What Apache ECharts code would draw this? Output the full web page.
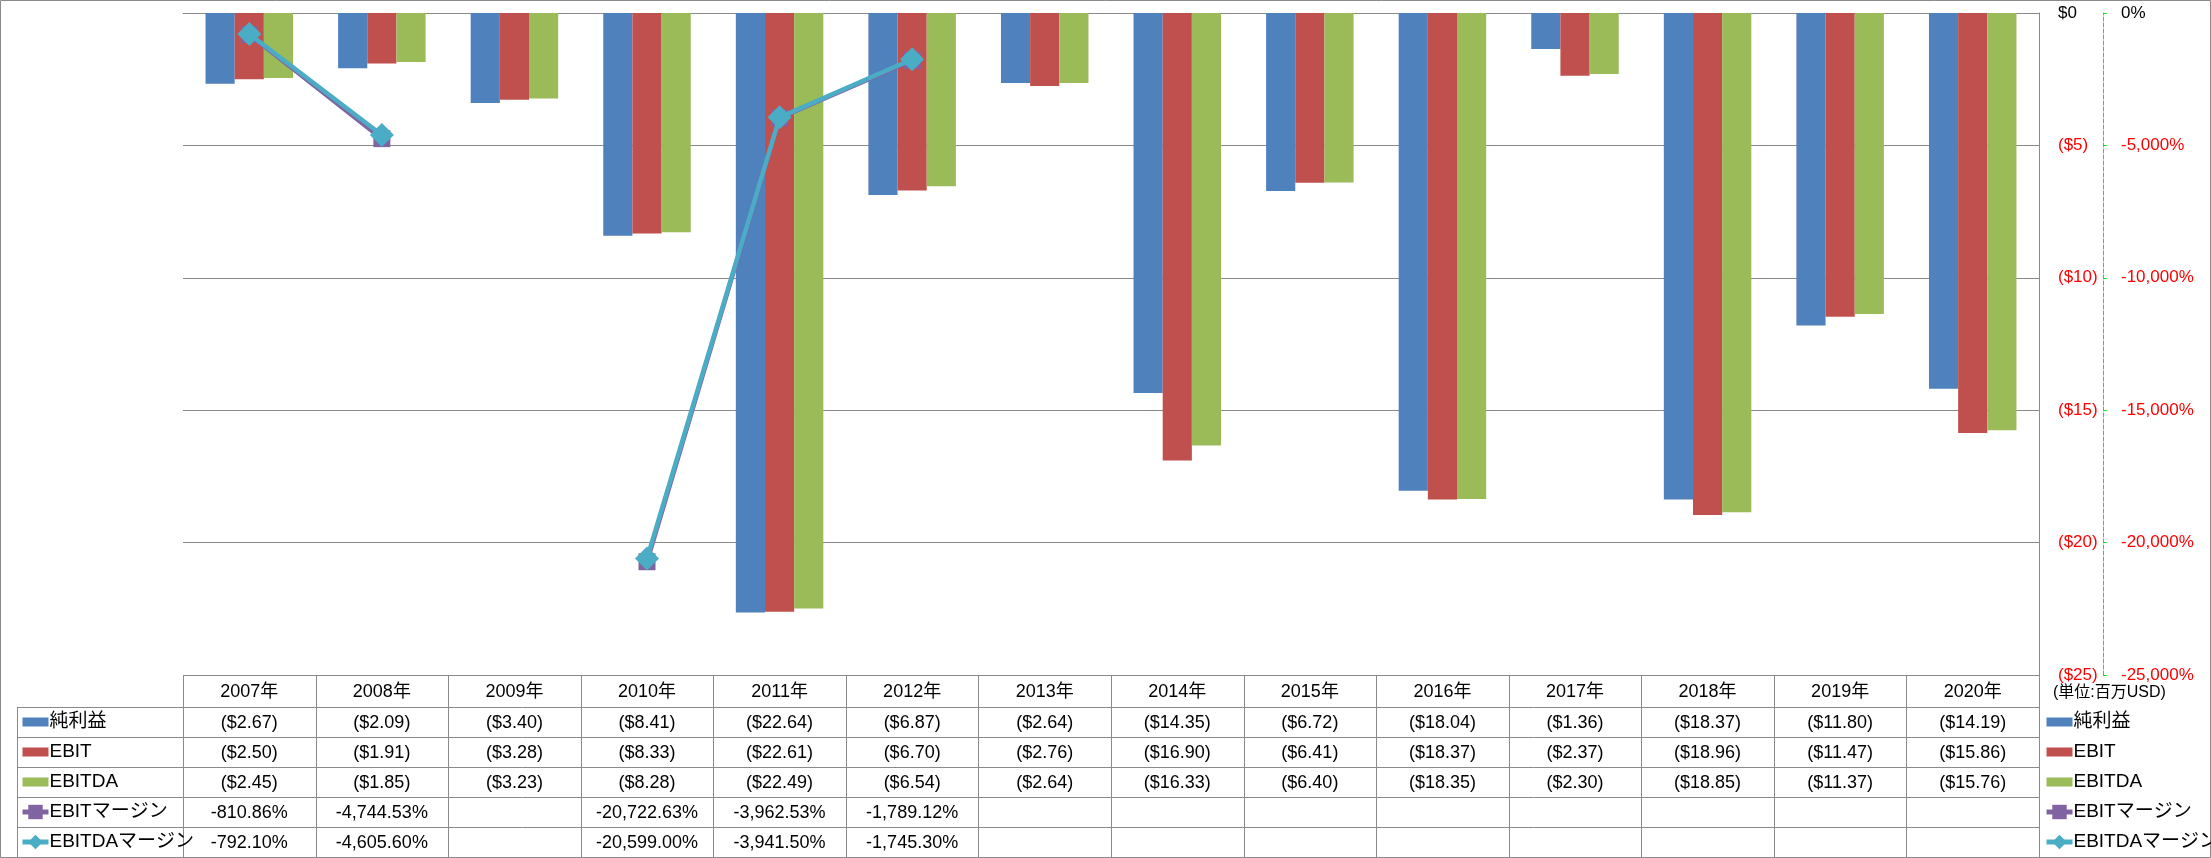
<!DOCTYPE html>
<html><head><meta charset="utf-8">
<script src="https://cdn.jsdelivr.net/npm/echarts@6/dist/echarts.min.js"></script>
<style>html,body{margin:0;padding:0;background:#fff}#c{width:2211px;height:858px}</style>
</head><body><div id="c"></div>
<script>
// ---- data ----
const years = ['2007年','2008年','2009年','2010年','2011年','2012年','2013年','2014年','2015年','2016年','2017年','2018年','2019年','2020年'];
const netIncome = [-2.67,-2.09,-3.40,-8.41,-22.64,-6.87,-2.64,-14.35,-6.72,-18.04,-1.36,-18.37,-11.80,-14.19];
const ebit      = [-2.50,-1.91,-3.28,-8.33,-22.61,-6.70,-2.76,-16.90,-6.41,-18.37,-2.37,-18.96,-11.47,-15.86];
const ebitda    = [-2.45,-1.85,-3.23,-8.28,-22.49,-6.54,-2.64,-16.33,-6.40,-18.35,-2.30,-18.85,-11.37,-15.76];
const ebitMargin   = [-810.86,-4744.53,null,-20722.63,-3962.53,-1789.12,null,null,null,null,null,null,null,null];
const ebitdaMargin = [-792.10,-4605.60,null,-20599.00,-3941.50,-1745.30,null,null,null,null,null,null,null,null];
const seriesNames = ['純利益','EBIT','EBITDA','EBITマージン','EBITDAマージン'];
const dollarAxis = {min:-25, max:0, interval:5};
const pctAxis = {min:-25000, max:0, interval:5000};
const unitLabel = '(単位:百万USD)';

// ---- layout / style ----
const W = 2211, H = 858;
const G = {left:183, right:2039, top:13, bottom:675};
const FONT = "'Liberation Sans', 'Noto Sans CJK JP', sans-serif";
const GRAY = '#8a8a8a';
const COLORS = ['#4F81BD','#C0504D','#9BBB59','#8064A2','#4BACC6'];

function fmtMoney(v){ return v < 0 ? '($' + Math.abs(v).toFixed(2) + ')' : '$' + v.toFixed(2); }
function fmtPct(v){ return v == null ? '' : v.toLocaleString('en-US',{minimumFractionDigits:2,maximumFractionDigits:2}) + '%'; }
function axisMoney(v){ return v < 0 ? '($' + Math.abs(v) + ')' : '$' + v; }
function axisPct(v){ return v.toLocaleString('en-US') + '%'; }
function negRed(v){ return Number(v) < 0 ? '#FF0000' : '#000000'; }

// ---- table graphics ----
const rows = [netIncome, ebit, ebitda, ebitMargin, ebitdaMargin];
const rowFmt = [fmtMoney, fmtMoney, fmtMoney, fmtPct, fmtPct];
const headerTop = 675, rowTop = 707, rowH = 30, tableLeft = 17;
const colW = (G.right - G.left) / years.length;
const gfx = [];
function hline(x1,x2,y){ gfx.push({type:'line', shape:{x1:x1,y1:y+0.5,x2:x2,y2:y+0.5}, style:{stroke:GRAY, lineWidth:1}, silent:true}); }
function vline(x,y1,y2){ gfx.push({type:'line', shape:{x1:x+0.5,y1:y1,x2:x+0.5,y2:y2}, style:{stroke:GRAY, lineWidth:1}, silent:true}); }
hline(G.left, G.right, headerTop);
for (let r = 0; r <= rows.length; r++) hline(tableLeft, G.right, rowTop + r*rowH);
vline(tableLeft, rowTop, rowTop + rows.length*rowH);
for (let i = 0; i <= years.length; i++) vline(Math.round(G.left + i*colW), headerTop, rowTop + rows.length*rowH);
rows.forEach((arr, r) => {
  arr.forEach((v, i) => {
    const t = rowFmt[r](v);
    if (!t) return;
    gfx.push({type:'text', silent:true, style:{text:t, x:G.left + (i+0.5)*colW, y:rowTop + r*rowH + rowH/2 + 1,
      align:'center', verticalAlign:'middle', font:'18px ' + FONT, fill:'#000'}});
  });
});
gfx.push({type:'text', silent:true, style:{text:unitLabel, x:2053, y:693, verticalAlign:'middle', font:'16px ' + FONT, fill:'#000'}});
gfx.push({type:'rect', silent:true, shape:{x:0.5,y:0.5,width:W-1,height:H-1}, style:{fill:'none', stroke:GRAY, lineWidth:1}});

const BAR_ICON = 'path://M0,0h26v9H0z';
const legendData = seriesNames.map((n, i) => i < 3 ? {name:n, icon:BAR_ICON} : {name:n, lineStyle:{width:5}});
const legendBase = {orient:'vertical', top:712, itemGap:10, itemWidth:26, itemHeight:18, padding:0, selectedMode:false,
  symbolKeepAspect:true,
  textStyle:{fontSize:19, lineHeight:20, fontFamily:FONT, color:'#000', padding:[0,0,0,-4]}, data:legendData};

const chart = echarts.init(document.getElementById('c'), null, {renderer:'canvas'});
chart.setOption({
  animation:false,
  color:COLORS,
  textStyle:{fontFamily:FONT},
  grid:{left:G.left, right:W-G.right, top:G.top, bottom:H-G.bottom, containLabel:false},
  legend:[Object.assign({left:20}, legendBase), Object.assign({left:2044}, legendBase)],
  xAxis:{type:'category', data:years, position:'bottom',
    axisLine:{show:true, lineStyle:{color:GRAY}}, axisTick:{show:false},
    axisLabel:{fontSize:18, margin:8, color:'#000', fontFamily:FONT}, splitLine:{show:false}},
  yAxis:[
    {type:'value', position:'right', min:dollarAxis.min, max:dollarAxis.max, interval:dollarAxis.interval,
      axisLine:{show:true, lineStyle:{color:GRAY}}, axisTick:{show:false},
      splitLine:{show:true, lineStyle:{color:GRAY, width:1}},
      axisLabel:{margin:19, fontSize:17, fontFamily:FONT, formatter:axisMoney, color:negRed}},
    {type:'value', position:'right', offset:64, min:pctAxis.min, max:pctAxis.max, interval:pctAxis.interval,
      axisLine:{show:true, lineStyle:{color:'#22DD22', type:'dashed', width:1}},
      axisTick:{show:true, length:4, lineStyle:{color:'#22DD22'}},
      splitLine:{show:false},
      axisLabel:{margin:18, fontSize:17, fontFamily:FONT, formatter:axisPct, color:negRed}}
  ],
  series:[
    {name:seriesNames[0], type:'bar', yAxisIndex:0, data:netIncome, barGap:'0%', barCategoryGap:'34%'},
    {name:seriesNames[1], type:'bar', yAxisIndex:0, data:ebit, barGap:'0%', barCategoryGap:'34%'},
    {name:seriesNames[2], type:'bar', yAxisIndex:0, data:ebitda, barGap:'0%', barCategoryGap:'34%'},
    {name:seriesNames[3], type:'line', yAxisIndex:1, data:ebitMargin, connectNulls:false,
      symbol:'rect', symbolSize:17, lineStyle:{width:4.5, color:COLORS[3]}, itemStyle:{color:COLORS[3]}, z:3},
    {name:seriesNames[4], type:'line', yAxisIndex:1, data:ebitdaMargin, connectNulls:false,
      symbol:'diamond', symbolSize:24, lineStyle:{width:4.5, color:COLORS[4]}, itemStyle:{color:COLORS[4]}, z:4}
  ],
  graphic:{elements:gfx}
});
</script></body></html>
